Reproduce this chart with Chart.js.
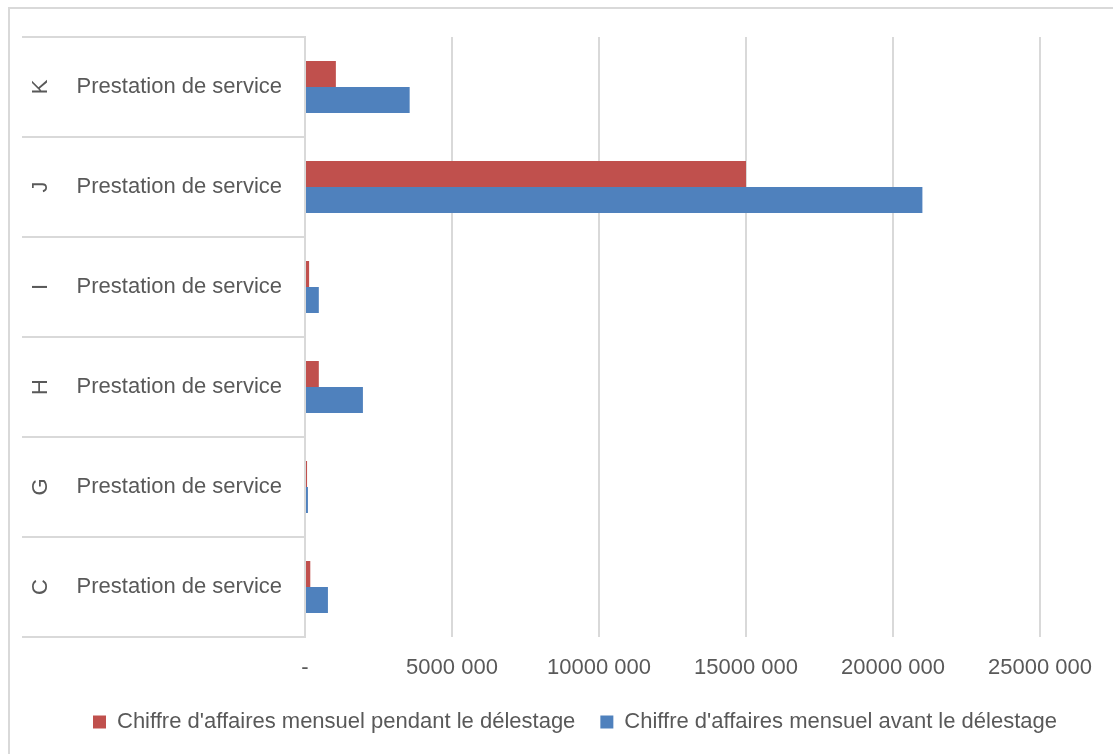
<!DOCTYPE html>
<html>
<head>
<meta charset="utf-8">
<script src="https://cdn.jsdelivr.net/npm/chart.js@4/dist/chart.umd.min.js"></script>
<style>
  html, body { margin: 0; padding: 0; background: #fff; }
</style>
</head>
<body>
<canvas id="chart" width="1113" height="754"></canvas>
<script>
// data, top to bottom
const groups = ['K', 'J', 'I', 'H', 'G', 'C'];
const serviceLabels = ['Prestation de service', 'Prestation de service', 'Prestation de service',
                       'Prestation de service', 'Prestation de service', 'Prestation de service'];
const caPendant = [1050000, 15000000, 140000, 470000, 70000, 180000];
const caAvant = [3560000, 21000000, 470000, 1970000, 100000, 780000];
const xTickLabels = ['-', '5000 000', '10000 000', '15000 000', '20000 000', '25000 000'];

const FONT = '"Liberation Sans", Arial, sans-serif';
const TEXT = '#595959';
const LINE = '#d9d9d9';

// outer frame, group letters and separator lines on the left
const groupAxis = {
    id: 'groupAxis',
    afterLayout(chart) {
        // legend in the reference sits a bit right of the plot centre
        const lg = chart.legend;
        const shift = 575 - (lg.left + lg.right) / 2;
        lg.left += shift;
        lg.right += shift;
    },
    beforeDraw(chart) {
        const ctx = chart.ctx;
        ctx.save();
        ctx.strokeStyle = LINE;
        ctx.lineWidth = 2;
        ctx.beginPath();
        ctx.moveTo(9, 754);
        ctx.lineTo(9, 8);
        ctx.lineTo(1113, 8);
        ctx.stroke();
        ctx.restore();
    },
    afterDraw(chart) {
        const ctx = chart.ctx;
        const y = chart.scales.y;
        const n = groups.length;
        const step = (y.bottom - y.top) / n;
        ctx.save();
        ctx.strokeStyle = LINE;
        ctx.lineWidth = 2;
        for (let i = 0; i <= n; i++) {
            const py = Math.round(y.top + i * step);
            ctx.beginPath();
            ctx.moveTo(22, py);
            ctx.lineTo(y.right, py);
            ctx.stroke();
        }
        ctx.fillStyle = TEXT;
        ctx.font = '22px ' + FONT;
        ctx.textAlign = 'center';
        ctx.textBaseline = 'middle';
        groups.forEach((g, i) => {
            ctx.save();
            ctx.translate(41, y.getPixelForValue(i));
            ctx.rotate(-Math.PI / 2);
            ctx.fillText(g, 0, 0);
            ctx.restore();
        });
        ctx.restore();
    }
};

new Chart(document.getElementById('chart'), {
    type: 'bar',
    data: {
        labels: serviceLabels,
        datasets: [
            {
                label: "Chiffre d'affaires mensuel pendant le délestage",
                data: caPendant,
                backgroundColor: '#C0504D',
                categoryPercentage: 0.52,
                barPercentage: 1.0
            },
            {
                label: "Chiffre d'affaires mensuel avant le délestage",
                data: caAvant,
                backgroundColor: '#4F81BD',
                categoryPercentage: 0.52,
                barPercentage: 1.0
            }
        ]
    },
    options: {
        indexAxis: 'y',
        responsive: false,
        animation: false,
        layout: {
            padding: { top: 37, left: 22, right: 73, bottom: 11 }
        },
        scales: {
            x: {
                min: 0,
                max: 25000000,
                ticks: {
                    stepSize: 5000000,
                    padding: 18,
                    color: TEXT,
                    font: { family: FONT, size: 22 },
                    maxRotation: 0,
                    callback: (v, i) => xTickLabels[i]
                },
                grid: { color: LINE, lineWidth: 2, drawTicks: false },
                border: { display: false },
                afterFit: s => { s.height = 49; }
            },
            y: {
                ticks: {
                    padding: 23,
                    color: TEXT,
                    font: { family: FONT, size: 22 }
                },
                grid: { display: false, drawTicks: false },
                border: { display: true, color: LINE, width: 2 },
                afterFit: s => { s.width = 283; }
            }
        },
        plugins: {
            legend: {
                position: 'bottom',
                labels: {
                    color: TEXT,
                    font: { family: FONT, size: 22 },
                    boxWidth: 13,
                    boxHeight: 13,
                    padding: 25
                }
            },
            tooltip: { enabled: false }
        }
    },
    plugins: [groupAxis]
});
</script>
</body>
</html>
